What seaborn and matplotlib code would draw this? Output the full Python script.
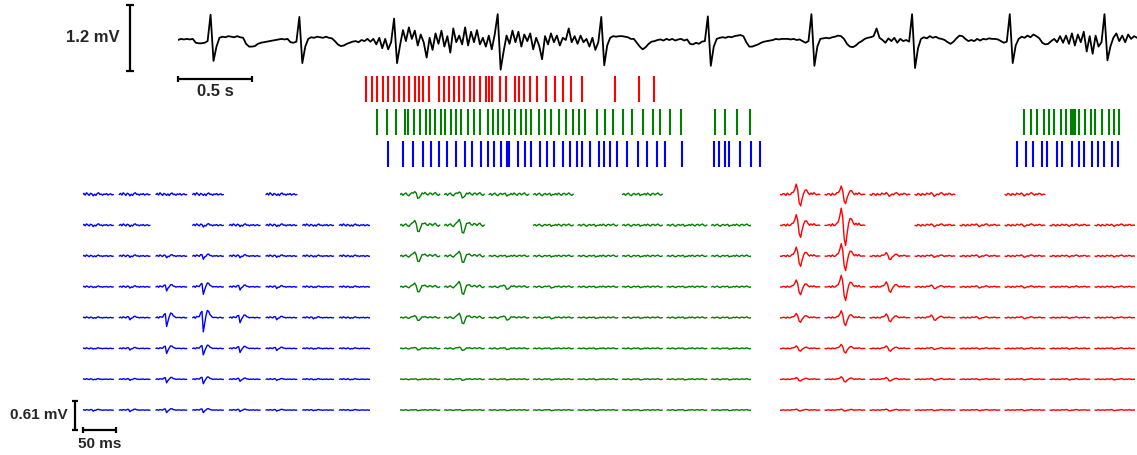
import numpy as np
import pandas as pd
import seaborn as sns
import matplotlib.pyplot as plt

# ---------------- data ----------------
# surface recording, one sample every 20 ms (mV)
ECG_DT = 0.02
ecg_mv = [
    0.00, 0.02, 0.01, 0.02, 0.01, 0.02, -0.05, -0.06, -0.06, -0.05,
    -0.02, 0.46, -0.38, -0.12, 0.04, 0.06, 0.05, 0.07, 0.06, 0.05,
    0.07, 0.05, 0.04, -0.07, -0.12, -0.12, -0.11, -0.07, -0.05, -0.04,
    -0.03, -0.02, -0.01, 0.00, 0.01, 0.02, 0.01, 0.02, -0.04, -0.05,
    -0.03, 0.42, -0.42, -0.12, 0.02, 0.05, 0.04, 0.06, 0.05, 0.04,
    0.06, 0.04, 0.03, -0.02, -0.08, -0.11, -0.10, -0.07, -0.05, -0.03,
    -0.02, -0.04, 0.00, -0.02, 0.02, -0.03, 0.02, -0.08, 0.04, -0.15,
    0.02, -0.17, -0.04, 0.39, -0.42, -0.10, 0.18, -0.02, 0.23, 0.02,
    0.17, -0.10, 0.10, -0.04, -0.32, 0.04, -0.18, 0.12, -0.07, 0.17,
    -0.12, 0.07, -0.23, 0.21, -0.04, 0.08, -0.08, 0.23, -0.10, 0.15,
    -0.04, 0.18, -0.08, 0.04, -0.12, 0.08, -0.17, 0.10, 0.47, -0.54,
    -0.21, 0.08, -0.07, 0.17, -0.04, 0.15, -0.12, 0.10, -0.02, 0.12,
    -0.17, 0.04, -0.10, -0.35, 0.07, -0.08, 0.12, -0.04, 0.08, -0.10,
    0.04, 0.00, 0.21, -0.04, 0.07, -0.07, 0.08, -0.04, 0.02, -0.12,
    0.04, -0.18, -0.04, 0.42, -0.46, -0.10, 0.04, 0.07, 0.06, 0.07,
    0.07, 0.06, 0.05, 0.02, 0.02, -0.05, -0.12, -0.17, -0.13, -0.07,
    -0.03, -0.02, 0.00, 0.01, -0.01, 0.02, 0.00, 0.02, -0.01, 0.01,
    0.02, -0.01, 0.01, -0.07, -0.08, -0.05, -0.07, -0.03, -0.02, 0.43,
    -0.47, -0.12, 0.02, 0.04, 0.05, 0.04, 0.06, 0.05, 0.07, 0.08,
    0.09, 0.07, -0.04, -0.12, -0.12, -0.10, -0.08, -0.05, -0.03, -0.02,
    -0.01, 0.00, 0.02, 0.01, 0.02, 0.02, 0.02, 0.01, 0.02, 0.00,
    0.01, -0.02, -0.05, -0.02, 0.47, -0.47, -0.12, 0.02, 0.03, 0.04,
    0.03, 0.05, 0.06, 0.08, 0.07, 0.02, -0.07, -0.12, -0.13, -0.10,
    -0.05, -0.02, 0.02, 0.04, 0.05, 0.07, 0.21, 0.04, 0.00, -0.05,
    0.03, -0.02, 0.04, -0.05, 0.02, -0.02, 0.00, -0.03, 0.47, -0.51,
    -0.15, 0.02, 0.05, 0.03, 0.07, 0.04, 0.06, 0.03, 0.02, 0.00,
    -0.04, -0.07, -0.03, 0.03, 0.08, 0.07, 0.02, -0.02, 0.00, -0.02,
    0.02, -0.01, 0.02, 0.01, 0.03, 0.02, 0.02, 0.01, -0.02, -0.05,
    -0.03, 0.47, -0.42, -0.10, 0.02, 0.06, 0.04, 0.08, 0.05, 0.10,
    0.07, 0.03, -0.05, -0.08, -0.07, -0.02, 0.02, -0.04, 0.07, -0.05,
    0.08, -0.07, 0.12, -0.10, 0.10, -0.04, 0.15, -0.21, 0.07, -0.25,
    0.08, -0.12, -0.04, 0.47, -0.37, -0.12, 0.04, 0.12, -0.02, 0.08,
    -0.04, 0.10, 0.02, 0.07, 0.04,
]

# spike times of the three sorted units (s)
red_spikes = [1.270, 1.309, 1.347, 1.387, 1.419, 1.457, 1.491, 1.527, 1.563, 1.599,
              1.630, 1.655, 1.698, 1.761, 1.797, 1.831, 1.865, 1.901, 1.932, 1.971,
              2.002, 2.041, 2.079, 2.101, 2.120, 2.178, 2.218, 2.279, 2.306, 2.340,
              2.380, 2.428, 2.486, 2.544, 2.599, 2.657, 2.732, 2.953, 3.113, 3.214]
green_spikes = [1.343, 1.410, 1.475, 1.532, 1.552, 1.593, 1.633, 1.674, 1.701, 1.736,
                1.779, 1.806, 1.843, 1.876, 1.914, 1.961, 2.000, 2.043, 2.093, 2.128,
                2.160, 2.196, 2.239, 2.279, 2.316, 2.353, 2.383, 2.441, 2.482, 2.520,
                2.576, 2.624, 2.671, 2.709, 2.752, 2.829, 2.885, 2.939, 3.009, 3.070,
                3.140, 3.207, 3.255, 3.324, 3.399, 3.626, 3.696, 3.779, 3.863,
                5.714, 5.764, 5.802, 5.851, 5.883, 5.921, 5.966, 6.000, 6.032, 6.047,
                6.061, 6.090, 6.128, 6.167, 6.196, 6.245, 6.289, 6.324, 6.360]
blue_spikes = [1.421, 1.522, 1.590, 1.657, 1.709, 1.761, 1.818, 1.876, 1.937, 1.989,
               2.047, 2.097, 2.137, 2.180, 2.221, 2.239, 2.297, 2.345, 2.387, 2.448,
               2.495, 2.543, 2.601, 2.649, 2.694, 2.728, 2.784, 2.845, 2.880, 2.919,
               2.964, 3.032, 3.110, 3.167, 3.234, 3.289, 3.407, 3.624, 3.655, 3.696,
               3.723, 3.797, 3.874, 3.932,
               5.667, 5.730, 5.779, 5.838, 5.874, 5.937, 5.975, 6.039, 6.090, 6.122,
               6.176, 6.218, 6.259, 6.309, 6.349]

# mean spike waveform of each unit, normalised to trough = -1
blue_shape = [0.00, 0.02, -0.02, 0.03, 0.05, 0.12, 0.30, 0.45, -1.00, -0.45, 0.20, 0.50,
              0.40, 0.22, 0.10, 0.04, 0.00, 0.02, -0.02, 0.00, 0.02, 0.00, -0.01, 0.00]
green_shape = [0.00, 0.03, -0.02, 0.02, 0.05, 0.00, -0.05, 0.05, 0.20, 0.50, 0.70, 0.10, -0.80, -1.00,
               -0.35, 0.15, 0.30, 0.20, 0.05, 0.10, 0.15, 0.05, 0.00, 0.10, 0.12, 0.00, -0.05, 0.00]
red_shape = [0.00, 0.02, -0.03, 0.03, 0.00, 0.04, -0.02, 0.03, 0.05, 0.15, 0.45, 0.80, 0.40, -0.60,
             -1.00, -0.45, 0.10, 0.30, 0.25, 0.12, 0.05, 0.08, 0.02, 0.06, -0.03, 0.02, 0.00, 0.00]

# background wiggle of each unit's average (mV)
blue_noise = [0.000, 0.012, -0.006, 0.018, 0.004, -0.010, 0.010, 0.002, -0.004, 0.008, -0.012, 0.006,
              0.014, -0.002, 0.004, -0.008, 0.006, 0.000, 0.010, -0.006, 0.002, 0.008, -0.004, 0.000]
green_noise = [0.000, 0.010, -0.008, 0.006, 0.014, -0.004, -0.012, 0.004, 0.010, -0.006, 0.002, 0.012,
               -0.008, 0.006, 0.000, 0.010, -0.006, 0.014, 0.002, -0.010, 0.008, 0.012, -0.004, 0.006,
               0.016, 0.000, -0.008, 0.004]
red_noise = [0.000, -0.008, 0.012, 0.004, -0.010, 0.010, 0.000, -0.006, 0.014, 0.004, -0.004, 0.008,
             0.000, -0.010, 0.006, 0.012, -0.004, 0.008, 0.016, 0.004, -0.008, 0.006, -0.002, 0.012,
             0.008, -0.006, 0.004, 0.000]
row_noise_gain = [2.0, 1.6, 1.3, 1.1, 1.0, 0.8, 0.7, 0.6]

# trough amplitude (mV) on the 8x8 electrode grid, None = no electrode
blue_amp = [
    [0.02, 0.02, 0.01, 0.01, None, 0.01, None, None],
    [0.02, 0.02, None, 0.03, 0.02, 0.02, 0.01, 0.01],
    [0.01, 0.02, 0.03, 0.06, 0.03, 0.02, 0.01, 0.01],
    [0.01, 0.02, 0.08, 0.15, 0.06, 0.03, 0.01, 0.01],
    [0.01, 0.04, 0.18, 0.29, 0.10, 0.04, 0.02, 0.01],
    [0.01, 0.03, 0.10, 0.13, 0.08, 0.04, 0.01, 0.01],
    [0.01, 0.02, 0.07, 0.09, 0.04, 0.02, 0.01, 0.01],
    [0.02, 0.03, 0.05, 0.05, 0.03, 0.02, 0.01, 0.01],
]
green_amp = [
    [0.08, 0.07, 0.02, 0.01, None, 0.01, None, None],
    [0.14, 0.17, None, 0.01, 0.01, 0.01, 0.01, 0.01],
    [0.12, 0.14, 0.01, 0.01, 0.01, 0.01, 0.01, 0.01],
    [0.11, 0.16, 0.05, 0.02, 0.01, 0.01, 0.01, 0.01],
    [0.06, 0.13, 0.05, 0.02, 0.01, 0.01, 0.01, 0.01],
    [0.03, 0.04, 0.02, 0.01, 0.01, 0.01, 0.01, 0.01],
    [0.01, 0.02, 0.01, 0.01, 0.01, 0.01, 0.01, 0.01],
    [0.01, 0.01, 0.01, 0.01, 0.01, 0.01, 0.01, 0.01],
]
red_amp = [
    [0.25, 0.20, 0.03, 0.03, None, 0.02, None, None],
    [0.26, 0.43, None, 0.02, 0.02, 0.02, 0.01, 0.01],
    [0.22, 0.31, 0.08, 0.02, 0.02, 0.02, 0.01, 0.01],
    [0.17, 0.29, 0.12, 0.04, 0.02, 0.02, 0.01, 0.01],
    [0.10, 0.17, 0.09, 0.06, 0.02, 0.02, 0.01, 0.01],
    [0.06, 0.10, 0.06, 0.02, 0.01, 0.01, 0.01, 0.01],
    [0.04, 0.06, 0.04, 0.02, 0.01, 0.01, 0.01, 0.01],
    [0.02, 0.02, 0.02, 0.01, 0.01, 0.01, 0.01, 0.01],
]

BLUE, GREEN, RED = '#0000ff', '#008000', '#ff0000'

# ---------------- layout (pixels) ----------------
W, H = 1137, 455
PX_PER_S = 148.0
PX_PER_MV_TOP = 55.0
PX_PER_MS = 0.67
PX_PER_MV_GRID = 48.2
ROW_STEP_MV = 30.8 / PX_PER_MV_GRID

sns.set_style('white')
plt.rcParams['font.family'] = ['Liberation Sans', 'DejaVu Sans']

fig = plt.figure(figsize=(W / 100, H / 100), dpi=100)


def px_axes(left, top, width, height):
    ax = fig.add_axes([left / W, 1 - (top + height) / H, width / W, height / H])
    ax.set_axis_off()
    return ax


# ---- top trace ----
t_end = 959 / PX_PER_S
ax_ecg = px_axes(178, 0, 959, 80)
t = np.arange(len(ecg_mv)) * ECG_DT
sns.lineplot(x=t, y=ecg_mv, color='black', lw=1.3, estimator=None, ax=ax_ecg)
ax_ecg.set_xlim(0, t_end)
ax_ecg.set_ylim(-40 / PX_PER_MV_TOP, 40 / PX_PER_MV_TOP)

bar_x = (130 - 178) / PX_PER_S
bar_top = 35 / PX_PER_MV_TOP
bar_bot = bar_top - 1.2
cap = 4 / PX_PER_S
kw = dict(color='black', lw=1.6, clip_on=False, solid_capstyle='butt')
ax_ecg.plot([bar_x, bar_x], [bar_bot, bar_top], **kw)
ax_ecg.plot([bar_x - cap, bar_x + cap], [bar_top, bar_top], **kw)
ax_ecg.plot([bar_x - cap, bar_x + cap], [bar_bot, bar_bot], **kw)
ax_ecg.text((120 - 178) / PX_PER_S, 2 / PX_PER_MV_TOP, '1.2 mV', ha='right', va='center',
            fontsize=12, fontweight='bold')

tb_y = -39 / PX_PER_MV_TOP
tcap = 3 / PX_PER_MV_TOP
ax_ecg.plot([0, 0.5], [tb_y, tb_y], **kw)
ax_ecg.plot([0, 0], [tb_y - tcap, tb_y + tcap], **kw)
ax_ecg.plot([0.5, 0.5], [tb_y - tcap, tb_y + tcap], **kw)
ax_ecg.text(0.25, -52 / PX_PER_MV_TOP, '0.5 s', ha='center', va='center',
            fontsize=12, fontweight='bold')

# ---- raster ----
ax_r = px_axes(178, 72.75, 959, 97.5)
ax_r.eventplot([red_spikes, green_spikes, blue_spikes], colors=[RED, GREEN, BLUE],
               lineoffsets=[0, 1, 2], linelengths=0.8, linewidths=1.5)
ax_r.set_xlim(0, t_end)
ax_r.set_ylim(2.5, -0.5)

# ---- electrode grids ----
units = [
    (blue_amp, blue_shape, blue_noise, BLUE, 82.5, 36.7, 2.0),
    (green_amp, green_shape, green_noise, GREEN, 400.0, 44.5, 2.2),
    (red_amp, red_shape, red_noise, RED, 780.0, 45.0, 2.2),
]
grid_axes = []
for amp, shape, noise, color, left, pitch_px, dt in units:
    width = 7 * pitch_px + (len(shape) - 1) * dt * PX_PER_MS
    ax = px_axes(left, 175, width, 280)
    pitch_ms = pitch_px / PX_PER_MS
    frames = []
    for r in range(8):
        for c in range(8):
            a = amp[r][c]
            if a is None:
                continue
            x = c * pitch_ms + np.arange(len(shape)) * dt
            y = -r * ROW_STEP_MV + a * np.array(shape) + row_noise_gain[r] * np.array(noise)
            frames.append(pd.DataFrame({'x': x, 'y': y, 'ch': r * 8 + c}))
    df = pd.concat(frames, ignore_index=True)
    sns.lineplot(data=df, x='x', y='y', units='ch', estimator=None, sort=False,
                 color=color, lw=1.0, legend=False, ax=ax)
    ax.set_xlim(0, width / PX_PER_MS)
    ax.set_ylim(-(455 - 194.5) / PX_PER_MV_GRID, 19.5 / PX_PER_MV_GRID)
    ax.set_axis_off()
    grid_axes.append(ax)

# scale bars of the grids (drawn on the blue grid)
ax_b = grid_axes[0]
sb_x = (75 - 82.5) / PX_PER_MS
sb_top = -(400.6 - 194.5) / PX_PER_MV_GRID
sb_bot = sb_top - 0.61
c_ms = 3 / PX_PER_MS
c_mv = 3 / PX_PER_MV_GRID
ax_b.plot([sb_x, sb_x], [sb_bot, sb_top], **kw)
ax_b.plot([sb_x - c_ms, sb_x + c_ms], [sb_top, sb_top], **kw)
ax_b.plot([sb_x - c_ms, sb_x + c_ms], [sb_bot, sb_bot], **kw)
ax_b.plot([0, 50], [sb_bot, sb_bot], **kw)
ax_b.plot([0, 0], [sb_bot - c_mv, sb_bot + c_mv], **kw)
ax_b.plot([50, 50], [sb_bot - c_mv, sb_bot + c_mv], **kw)
ax_b.text((68 - 82.5) / PX_PER_MS, -(415 - 194.5) / PX_PER_MV_GRID, '0.61 mV',
          ha='right', va='center', fontsize=11, fontweight='bold')
ax_b.text(25, -(444 - 194.5) / PX_PER_MV_GRID, '50 ms', ha='center', va='center',
          fontsize=11, fontweight='bold')

fig.savefig('out.png', dpi=100)
